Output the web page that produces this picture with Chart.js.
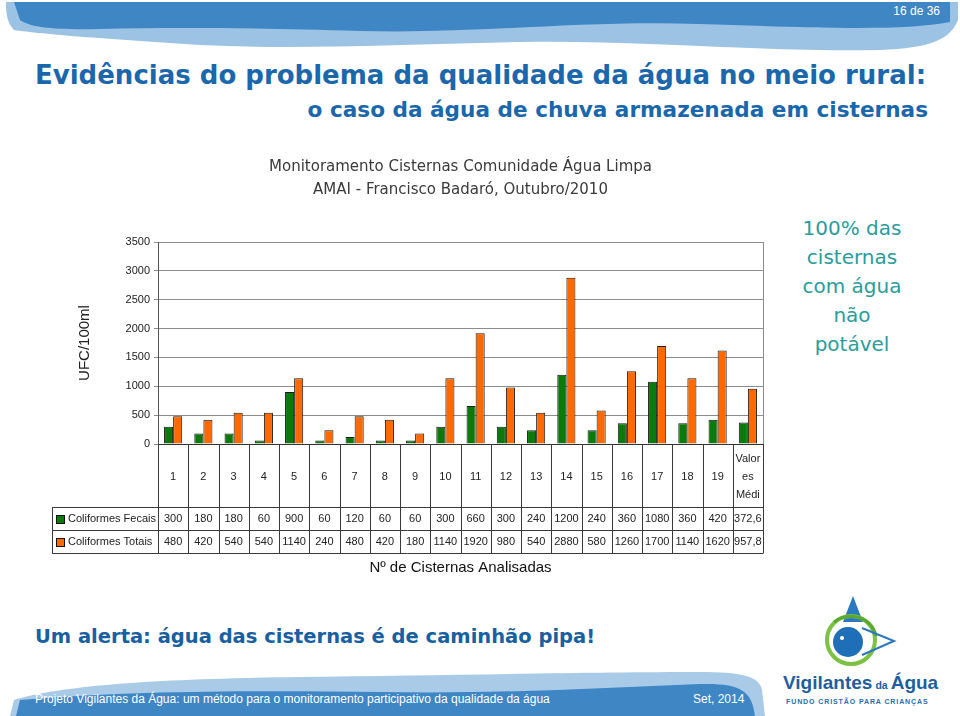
<!DOCTYPE html>
<html lang="pt">
<head>
<meta charset="utf-8">
<title>Monitoramento Cisternas</title>
<script src="https://cdn.jsdelivr.net/npm/chart.js@4.4.0/dist/chart.umd.min.js"></script>
<style>
  html, body { margin: 0; padding: 0; background: #fff; }
  body { width: 960px; height: 716px; position: relative; overflow: hidden; font-family: "Liberation Sans", Arial, sans-serif; }
  .abs { position: absolute; white-space: nowrap; }
  #deco { position: absolute; left: 0; top: 0; }
  #wrap { position: absolute; left: 0; top: 140px; width: 960px; height: 460px; }
  #t1 { left: 35px; top: 58px; font-family: "DejaVu Sans", sans-serif; font-size: 26px; font-weight: bold; color: #1b67ac; line-height: 34px; }
  #t2 { right: 32px; top: 94px; font-family: "DejaVu Sans", sans-serif; font-size: 21.6px; font-weight: bold; color: #1b67ac; line-height: 32px; }
  #side { left: 782px; top: 214px; width: 140px; text-align: center; font-family: "DejaVu Sans", sans-serif; font-size: 20px; line-height: 29px; color: #2a9c9c; }
  #alert { left: 35px; top: 622px; font-family: "DejaVu Sans", sans-serif; font-size: 19.5px; font-weight: bold; color: #18609f; line-height: 30px; }
  #page { right: 20px; top: 4px; font-family: "Liberation Sans Narrow", "Liberation Sans", sans-serif; font-size: 12px; color: #fff; }
  #foot { left: 35px; top: 692px; font-family: "Liberation Sans Narrow", "Liberation Sans", sans-serif; font-size: 12px; color: #fff; }
  #date { left: 693px; top: 692px; font-family: "Liberation Sans Narrow", "Liberation Sans", sans-serif; font-size: 12px; color: #fff; }
</style>
</head>
<body>

<svg id="deco" width="960" height="716" viewBox="0 0 960 716">
  <!-- header wave -->
  <path d="M6,2 H958 V20 C950,40 930,48 880,50 C760,52 640,40 520,42 C400,44 300,50 200,45 C120,40 40,34 14,30 C6,22 6,10 6,2 Z" fill="#9cc3e4"/>
  <path d="M14,2 H950 V22 C900,32 800,27 700,24 C580,20 480,34 360,31 C250,28 180,27 100,29 C60,30 30,28 20,20 Z" fill="#3f86c5"/>
  <!-- footer wave -->
  <path d="M10,716 L14,700 C60,686 150,679 300,677 C450,675 600,672 700,672 C740,672 760,676 762,690 L765,716 Z" fill="#a9cbe8"/>
  <path d="M16,716 L20,700 C120,691 250,690 380,692 C500,694 600,688 700,684 C740,683 752,690 755,716 Z" fill="#3f86c5"/>
  <!-- logo -->
  <polygon points="853,596 843,622 863,622" fill="#2a78c0"/>
  <circle cx="851" cy="640" r="24" fill="none" stroke="#7cc242" stroke-width="4"/>
  <path d="M834,622 C850,610 872,618 876,636" fill="none" stroke="#5aa832" stroke-width="3"/>
  <path d="M862,628 L894,641 L862,655" fill="none" stroke="#2a78c0" stroke-width="2"/>
  <circle cx="848" cy="642" r="15" fill="#1f6fb8"/>
  <circle cx="842" cy="638" r="2" fill="#fff"/>
  <text x="783" y="689" font-family="Liberation Sans, Arial, sans-serif" font-weight="bold" font-size="19" fill="#1f5fa0">Vigilantes<tspan font-size="10.5" dx="3">da</tspan><tspan dx="3">Água</tspan></text>
  <text x="786" y="704" font-family="Liberation Sans, Arial, sans-serif" font-weight="bold" font-size="7" letter-spacing="0.9" fill="#2a6db0">FUNDO CRISTÃO PARA CRIANÇAS</text>
</svg>

<div id="page" class="abs">16 de 36</div>
<div id="t1" class="abs">Evidências do problema da qualidade da água no meio rural:</div>
<div id="t2" class="abs">o caso da água de chuva armazenada em cisternas</div>
<div id="side" class="abs">100% das<br>cisternas<br>com água<br>não<br>potável</div>

<div id="wrap"><canvas id="chart" width="960" height="460"></canvas></div>

<div id="alert" class="abs">Um alerta: água das cisternas é de caminhão pipa!</div>
<div id="foot" class="abs">Projeto Vigilantes da Água: um método para o monitoramento participativo da qualidade da água</div>
<div id="date" class="abs">Set, 2014</div>

<script>
// ——— data ———
const categories = ['1','2','3','4','5','6','7','8','9','10','11','12','13','14','15','16','17','18','19', ['Valor','es','Médi']];
const fecais = [300, 180, 180, 60, 900, 60, 120, 60, 60, 300, 660, 300, 240, 1200, 240, 360, 1080, 360, 420, 372.6];
const totais = [480, 420, 540, 540, 1140, 240, 480, 420, 180, 1140, 1920, 980, 540, 2880, 580, 1260, 1700, 1140, 1620, 957.8];
const seriesNames = ['Coliformes Fecais', 'Coliformes Totais'];
const seriesColors = ['#0b7a0b', '#ff6a00'];
const chartTitle = ['Monitoramento Cisternas Comunidade Água Limpa', 'AMAI - Francisco Badaró, Outubro/2010'];
const yMax = 3500, yStep = 500;

const FONT = '"Liberation Sans", Arial, sans-serif';
const fmt = v => String(v).replace('.', ',');

// ——— data table under the x axis, aligned to the category scale ———
const dataTable = {
  id: 'dataTable',
  afterDraw(chart) {
    const { ctx, chartArea: a, scales: { x } } = chart;
    const rowTop = a.bottom + 63, rowH = 23, tableLeft = 52;
    const rows = [fecais, totais];
    ctx.save();

    // right border of plot box
    ctx.strokeStyle = '#8c8c8c';
    ctx.lineWidth = 1;
    ctx.beginPath();
    ctx.moveTo(Math.round(a.right) + 0.5, a.top);
    ctx.lineTo(Math.round(a.right) + 0.5, a.bottom);
    ctx.stroke();

    ctx.strokeStyle = '#3a3a3a';
    ctx.beginPath();
    for (let i = 0; i <= categories.length; i++) {
      const px = Math.round(x.getPixelForValue(i - 0.5)) + 0.5;
      ctx.moveTo(px, a.bottom);
      ctx.lineTo(px, rowTop + rows.length * rowH);
    }
    for (let r = 0; r <= rows.length; r++) {
      const py = Math.round(rowTop + r * rowH) + 0.5;
      ctx.moveTo(tableLeft, py);
      ctx.lineTo(Math.round(a.right) + 0.5, py);
    }
    ctx.moveTo(tableLeft + 0.5, rowTop);
    ctx.lineTo(tableLeft + 0.5, rowTop + rows.length * rowH);
    ctx.stroke();

    ctx.textBaseline = 'middle';
    rows.forEach((vals, r) => {
      const cy = rowTop + r * rowH + rowH / 2 + 0.5;
      ctx.fillStyle = seriesColors[r];
      ctx.fillRect(tableLeft + 4, cy - 4, 8, 8);
      ctx.strokeStyle = '#111';
      ctx.strokeRect(tableLeft + 4.5, cy - 3.5, 8, 8);
      ctx.fillStyle = '#222';
      ctx.font = '11px ' + FONT;
      ctx.textAlign = 'left';
      ctx.fillText(seriesNames[r], tableLeft + 16, cy);
      ctx.textAlign = 'center';
      vals.forEach((v, i) => ctx.fillText(fmt(v), x.getPixelForValue(i), cy));
    });
    ctx.restore();
  }
};

new Chart(document.getElementById('chart'), {
  type: 'bar',
  data: {
    labels: categories,
    datasets: [
      { label: seriesNames[0], data: fecais, backgroundColor: seriesColors[0], borderColor: '#1a1a1a', borderWidth: 1, categoryPercentage: 0.6, barPercentage: 1 },
      { label: seriesNames[1], data: totais, backgroundColor: seriesColors[1], borderColor: '#1a1a1a', borderWidth: 1, categoryPercentage: 0.6, barPercentage: 1 }
    ]
  },
  options: {
    responsive: false,
    animation: false,
    layout: { padding: { left: 70, right: 197, top: 0, bottom: 0 } },
    plugins: {
      legend: { display: false },
      tooltip: { enabled: false },
      title: {
        display: true,
        text: chartTitle,
        fullSize: false,
        color: '#3a3a3a',
        font: { family: '"DejaVu Sans", sans-serif', size: 15, weight: 'normal', lineHeight: '23px' },
        padding: { top: 15.5, bottom: 40.5 }
      }
    },
    scales: {
      y: {
        min: 0,
        max: yMax,
        ticks: { stepSize: yStep, color: '#222', font: { family: FONT, size: 11 }, padding: 4, callback: v => String(v) },
        grid: { color: '#8c8c8c', tickLength: 4 },
        border: { color: '#555' },
        title: { display: true, text: 'UFC/100ml', color: '#222', font: { family: FONT, size: 15 }, padding: { top: 6, bottom: 0 } },
        afterFit(s) { s.width = 88; }
      },
      x: {
        grid: { display: false, drawTicks: false },
        border: { color: '#333' },
        ticks: { color: '#222', font: { family: FONT, size: 11, lineHeight: '18px' }, padding: 15, crossAlign: 'center', maxRotation: 0, autoSkip: false },
        title: { display: true, text: 'Nº de Cisternas Analisadas', color: '#111', font: { family: FONT, size: 15 }, padding: { top: 0, bottom: 23 } },
        afterFit(s) { s.height = 156; }
      }
    }
  },
  plugins: [dataTable]
});
</script>
</body>
</html>
